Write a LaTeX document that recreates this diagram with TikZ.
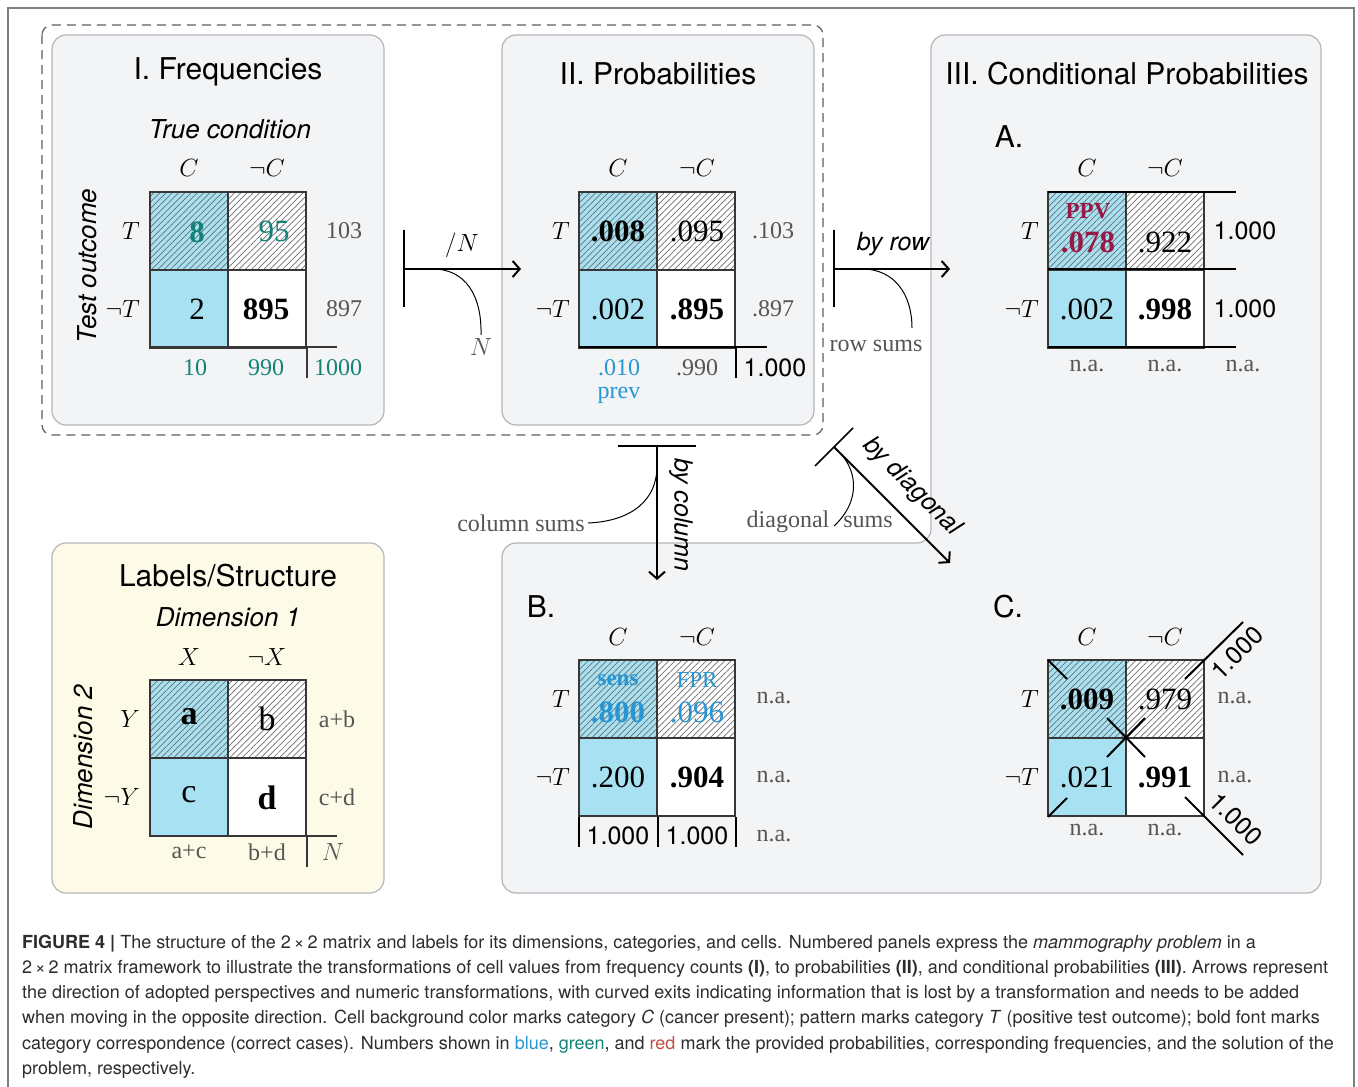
\documentclass[tikz,border=0pt]{standalone}
\usepackage{fontspec}
\setmainfont{Liberation Serif}
\setsansfont{TeX Gyre Heros}
\usetikzlibrary{patterns.meta,arrows.meta}
\definecolor{cellc}{RGB}{168,225,242}
\definecolor{hatchc}{RGB}{110,110,110}
\definecolor{gridc}{RGB}{55,55,55}
\definecolor{panelc}{RGB}{243,244,246}
\definecolor{panelb}{RGB}{180,182,186}
\definecolor{labc}{RGB}{253,251,232}
\definecolor{txt}{RGB}{85,85,85}
\definecolor{freqc}{RGB}{20,130,120}
\definecolor{probc}{RGB}{40,150,210}
\definecolor{solc}{RGB}{150,25,70}
\definecolor{capred}{RGB}{190,80,70}
\definecolor{captxt}{RGB}{45,45,45}

\begin{document}
\begin{tikzpicture}[x=1pt,y=-1pt,
  ttl/.style={font=\sffamily\fontsize{30}{32}\selectfont},
  sub/.style={font=\sffamily\itshape\fontsize{26}{28}\selectfont},
  way/.style={font=\sffamily\itshape\fontsize{25}{28}\selectfont},
  lab/.style={font=\fontsize{25}{28}\selectfont},
  rowlab/.style={lab,anchor=east,inner sep=0pt},
  val/.style={font=\fontsize{31}{34}\selectfont},
  valb/.style={font=\fontsize{31}{34}\selectfont\bfseries},
  tag/.style={font=\fontsize{23}{26}\selectfont},
  sumv/.style={font=\fontsize{24}{26}\selectfont,text=txt},
  one/.style={font=\sffamily\fontsize{25}{27}\selectfont},
  cellline/.style={draw=gridc,line width=1.5pt},
  ext/.style={line width=2pt},
  arr/.style={line width=2pt,-{Straight Barb[length=7pt,width=16pt]}},
  bar/.style={line width=1.5pt},
  exit/.style={line width=1pt},
  panel/.style={fill=panelc,draw=panelb,line width=1.2pt,rounded corners=14pt},
  capline/.style={font=\sffamily\fontsize{18}{20}\selectfont,text=captxt,anchor=base west,inner sep=0pt}]
  \useasboundingbox (0,0) rectangle (1358,1087);
  \fill[white] (0,0) rectangle (1358,1087);
  \draw[gray,line width=1.5pt] (8,1087) -- (8,8) -- (1354,8) -- (1354,1087);

  % panels
  \draw[gridc!80,dashed,dash pattern=on 9pt off 6pt,line width=1.2pt,rounded corners=10pt] (42,25) rectangle (823,435);
  \filldraw[panel] (52,35) rectangle (384,425);
  \filldraw[panel] (502,35) rectangle (814,425);
  \filldraw[panel] (931,35) -- (1321,35) -- (1321,893) -- (502,893) -- (502,543) -- (931,543) -- cycle;
  \filldraw[panel,fill=labc] (52,543) rectangle (384,893);

  % the six 2x2 matrices
  \foreach \mx/\my in {150/192,579/192,1048/192,150/680,579/660,1048/660}{
    \fill[cellc] (\mx,\my) rectangle ++(78,156);
    \fill[white] (\mx+78,\my) rectangle ++(78,156);
    \fill[pattern={Lines[angle=45,distance=4.4pt,line width=0.7pt]},pattern color=hatchc] (\mx,\my) rectangle ++(156,78);
    \draw[cellline] (\mx,\my) rectangle ++(156,156) (\mx+78,\my) -- ++(0,156) (\mx,\my+78) -- ++(156,0);
  }
  \draw[cellline] (150,347) -- (337,347) (307,347) -- (307,378);
  \draw[cellline] (150,836) -- (337,836) (307,836) -- (307,867);
  \draw[ext] (579,347) -- (767,347) (736,347) -- (736,378);
  \foreach \ry in {192,269,347} \draw[ext] (1048,\ry) -- (1236,\ry);
  \foreach \cx in {579,658,736} \draw[ext] (\cx,817) -- (\cx,847);
  \draw[ext] (1048,660) -- (1067,679) (1107,718) -- (1145,757) (1185,797) -- (1243,855);
  \draw[ext] (1048,817) -- (1067,798) (1107,757) -- (1145,718) (1185,679) -- (1243,622);

  % I. Frequencies
  \node[ttl] (f-ttl) at (228,72) {I. Frequencies};
  \node[sub] (f-sub) at (230,129) {True condition};
  \node[sub,rotate=90] (f-side) at (87,266) {Test outcome};
  \node[lab] (f-c) at (189,168) {$C$};
  \node[lab] (f-nc) at (267,168) {$\neg C$};
  \node[rowlab] (f-t) at (140,231) {$T$};
  \node[rowlab] (f-nt) at (140,309) {$\neg T$};
  \node[valb,text=freqc] (f-a) at (197,232) {8};
  \node[val,text=freqc] (f-b) at (274,231) {95};
  \node[val] (f-cc) at (197,309) {2};
  \node[valb] (f-d) at (266,309) {895};
  \node[sumv] (f-r1) at (344,231) {103};
  \node[sumv] (f-r2) at (344,309) {897};
  \node[sumv,text=freqc] (f-s1) at (195,368) {10};
  \node[sumv,text=freqc] (f-s2) at (266,368) {990};
  \node[sumv,text=freqc] (f-s3) at (338,368) {1000};

  % II. Probabilities
  \node[ttl] (p-ttl) at (658,74) {II. Probabilities};
  \node[lab] (p-c) at (618,168) {$C$};
  \node[lab] (p-nc) at (697,168) {$\neg C$};
  \node[rowlab] (p-t) at (570,231) {$T$};
  \node[rowlab] (p-nt) at (570,309) {$\neg T$};
  \node[valb] (p-a) at (618,231) {.008};
  \node[val] (p-b) at (697,231) {.095};
  \node[val] (p-cc) at (618,309) {.002};
  \node[valb] (p-d) at (697,309) {.895};
  \node[sumv] (p-r1) at (773,231) {.103};
  \node[sumv] (p-r2) at (773,309) {.897};
  \node[sumv,text=probc] (p-s1) at (619,368) {.010};
  \node[sumv,text=probc] (p-prev) at (619,395) {prev};
  \node[sumv] (p-s2) at (697,368) {.990};
  \node[one] (p-s3) at (775,368) {1.000};

  % III. Conditional Probabilities
  \node[ttl] (c-ttl) at (1127,74) {III. Conditional Probabilities};
  \node[ttl] (a-ttl) at (1009,137) {A.};
  \node[lab] (a-c) at (1087,168) {$C$};
  \node[lab] (a-nc) at (1165,168) {$\neg C$};
  \node[rowlab] (a-t) at (1039,231) {$T$};
  \node[rowlab] (a-nt) at (1039,309) {$\neg T$};
  \node[tag,text=solc,font=\fontsize{23}{26}\selectfont\bfseries] (a-ppv) at (1088,211) {PPV};
  \node[valb,text=solc] (a-a) at (1088,242) {.078};
  \node[val] (a-b) at (1165,242) {.922};
  \node[val] (a-cc) at (1087,309) {.002};
  \node[valb] (a-d) at (1165,309) {.998};
  \node[one] (a-r1) at (1245,231) {1.000};
  \node[one] (a-r2) at (1245,309) {1.000};
  \foreach \nx [count=\i] in {1087,1165,1243} \node[sumv] (a-na\i) at (\nx,366) {n.a.};

  \node[ttl] (b-ttl) at (541,607) {B.};
  \node[lab] (b-c) at (618,637) {$C$};
  \node[lab] (b-nc) at (697,637) {$\neg C$};
  \node[rowlab] (b-t) at (570,699) {$T$};
  \node[rowlab] (b-nt) at (570,777) {$\neg T$};
  \node[tag,text=probc,font=\fontsize{23}{26}\selectfont\bfseries] (b-sens) at (618,680) {sens};
  \node[valb,text=probc] (b-a) at (618,712) {.800};
  \node[tag,text=probc] (b-fpr) at (697,680) {FPR};
  \node[val,text=probc] (b-b) at (697,712) {.096};
  \node[val] (b-cc) at (618,777) {.200};
  \node[valb] (b-d) at (697,777) {.904};
  \node[one] (b-s1) at (618,836) {1.000};
  \node[one] (b-s2) at (697,836) {1.000};
  \foreach \ny [count=\i] in {698,777,836} \node[sumv] (b-na\i) at (774,\ny) {n.a.};

  \node[ttl] (d-ttl) at (1008,607) {C.};
  \node[lab] (d-c) at (1087,637) {$C$};
  \node[lab] (d-nc) at (1165,637) {$\neg C$};
  \node[rowlab] (d-t) at (1039,699) {$T$};
  \node[rowlab] (d-nt) at (1039,777) {$\neg T$};
  \node[valb] (d-a) at (1087,699) {.009};
  \node[val] (d-b) at (1165,699) {.979};
  \node[val] (d-cc) at (1087,777) {.021};
  \node[valb] (d-d) at (1165,777) {.991};
  \node[sumv] (d-na1) at (1235,698) {n.a.};
  \node[sumv] (d-na2) at (1235,777) {n.a.};
  \node[sumv] (d-na3) at (1087,830) {n.a.};
  \node[sumv] (d-na4) at (1165,830) {n.a.};
  \node[one,rotate=45] (d-up) at (1237,653) {1.000};
  \node[one,rotate=-45] (d-dn) at (1236,819) {1.000};

  % Labels/Structure
  \node[ttl] (l-ttl) at (228,576) {Labels/Structure};
  \node[sub] (l-sub) at (228,617) {Dimension 1};
  \node[sub,rotate=90] (l-side) at (83,757) {Dimension 2};
  \node[lab] (l-x) at (189,657) {$X$};
  \node[lab] (l-nx) at (267,657) {$\neg X$};
  \node[rowlab] (l-y) at (140,719) {$Y$};
  \node[rowlab] (l-ny) at (140,797) {$\neg Y$};
  \node[font=\fontsize{34}{36}\selectfont\bfseries] (l-a) at (189,717) {a};
  \node[font=\fontsize{34}{36}\selectfont] (l-b) at (267,719) {b};
  \node[font=\fontsize{34}{36}\selectfont] (l-c) at (189,795) {c};
  \node[font=\fontsize{34}{36}\selectfont\bfseries] (l-d) at (267,798) {d};
  \node[sumv] (l-r1) at (337,719) {a+b};
  \node[sumv] (l-r2) at (337,797) {c+d};
  \node[sumv] (l-s1) at (189,852) {a+c};
  \node[sumv] (l-s2) at (267,852) {b+d};
  \node[sumv] (l-s3) at (333,852) {$N$};

  % transformations
  \coordinate (n-top) at (404,230); \coordinate (n-bot) at (404,307);
  \coordinate (n-from) at (404,269); \coordinate (n-to) at (521,269);
  \draw[bar] (n-top) -- (n-bot);
  \draw[arr] (n-from) -- (n-to);
  \node[lab] (n-lbl) at (462,245) {$/N$};
  \node[sumv] (n-lost) at (481,347) {$N$};
  \draw[exit] (433,269) .. controls (465,269) and (482,295) .. (n-lost.north);

  \coordinate (r-top) at (834,230); \coordinate (r-bot) at (834,307);
  \coordinate (r-from) at (834,269); \coordinate (r-to) at (950,269);
  \draw[bar] (r-top) -- (r-bot);
  \draw[arr] (r-from) -- (r-to);
  \node[way] (r-lbl) at (893,244) {by row};
  \node[sumv] (r-lost) at (876,346) {row sums};
  \coordinate (r-end) at (912,328);
  \draw[exit] (862,269) .. controls (895,269) and (912,295) .. (r-end);

  \coordinate (k-left) at (618,446); \coordinate (k-right) at (696,446);
  \coordinate (k-from) at (657,446); \coordinate (k-to) at (657,580);
  \draw[bar] (k-left) -- (k-right);
  \draw[arr] (k-from) -- (k-to);
  \node[way,rotate=-90] (k-lbl) at (681,515) {by column};
  \node[sumv] (k-lost) at (521,523) {column sums};
  \draw[exit] (657,466) .. controls (657,500) and (632,521) .. (k-lost.east);

  \coordinate (g-a) at (815,466); \coordinate (g-b) at (853,428);
  \coordinate (g-from) at (834,447); \coordinate (g-to) at (950,563);
  \draw[bar] (g-a) -- (g-b);
  \draw[arr] (g-from) -- (g-to);
  \node[way,rotate=-45] (g-lbl) at (912,487) {by diagonal};
  \node[sumv] (g-l1) at (788,522) {diagonal};
  \node[sumv] (g-l2) at (868,522) {sums};
  \coordinate (g-end) at (834,526);
  \draw[exit] (840,453) .. controls (858,472) and (860,502) .. (g-end);

  % caption
  \node[capline] (cap1) at (22,948) {\textbf{FIGURE 4 |} The structure of the 2\,×\,2 matrix and labels for its dimensions, categories, and cells. Numbered panels express the \textit{mammography problem} in a};
  \node[capline] (cap2) at (22,973) {2\,×\,2 matrix framework to illustrate the transformations of cell values from frequency counts \textbf{(I)}, to probabilities \textbf{(II)}, and conditional probabilities \textbf{(III)}. Arrows represent};
  \node[capline] (cap3) at (22,998) {the direction of adopted perspectives and numeric transformations, with curved exits indicating information that is lost by a transformation and needs to be added};
  \node[capline] (cap4) at (22,1023) {when moving in the opposite direction. Cell background color marks category \textit{C} (cancer present); pattern marks category \textit{T} (positive test outcome); bold font marks};
  \node[capline] (cap5) at (22,1049) {category correspondence (correct cases). Numbers shown in \textcolor{probc}{blue}, \textcolor{freqc}{green}, and \textcolor{capred}{red} mark the provided probabilities, corresponding frequencies, and the solution of the};
  \node[capline] (cap6) at (22,1074) {problem, respectively.};
\end{tikzpicture}
\end{document}
